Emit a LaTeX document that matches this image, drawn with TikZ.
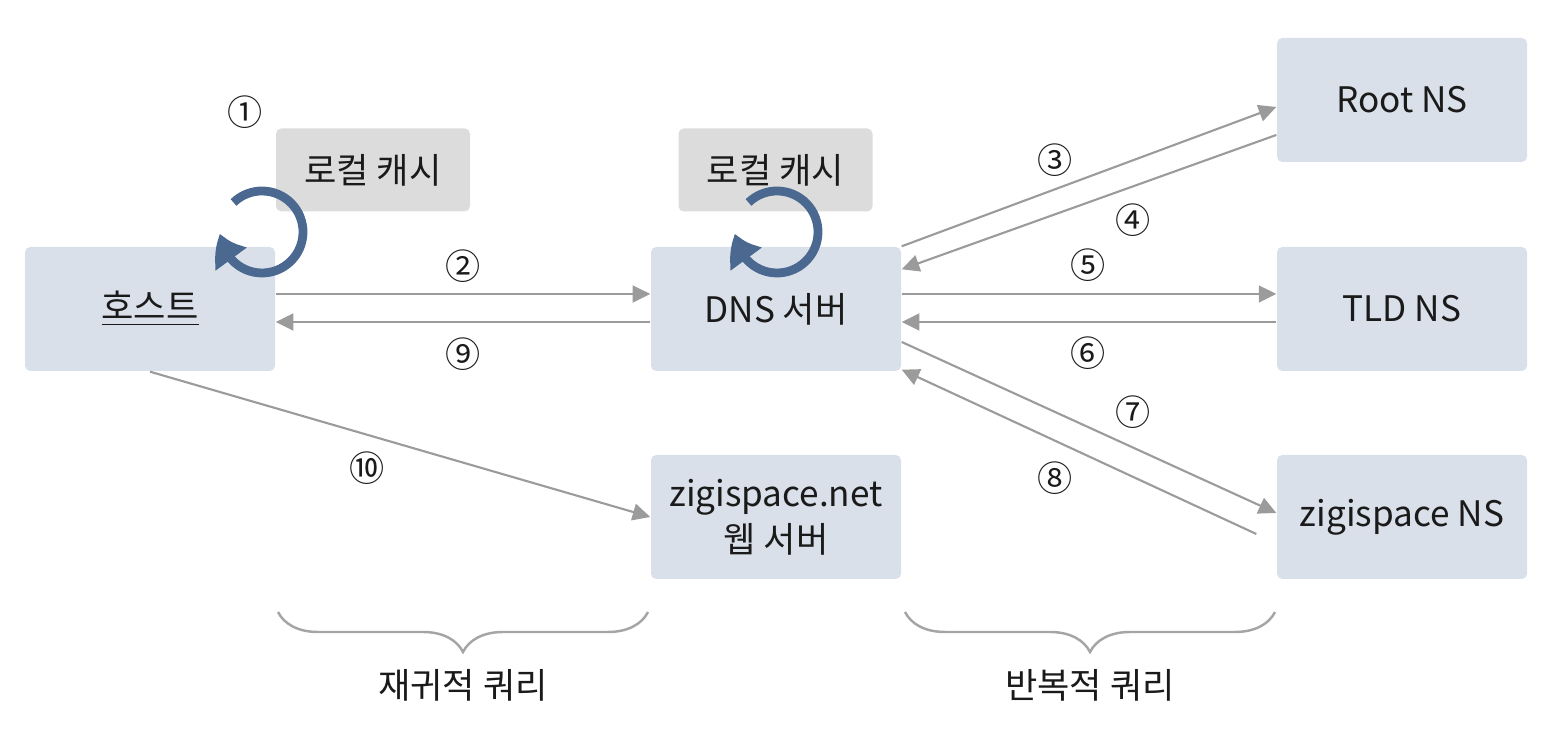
\documentclass[tikz,border=0pt]{standalone}
\usepackage{fontspec}
\setmainfont{Noto Sans CJK KR}
\usetikzlibrary{arrows.meta,bending,decorations.pathreplacing}

\definecolor{boxblue}{HTML}{DAE0EA}
\definecolor{cachegray}{HTML}{DCDCDC}
\definecolor{linegray}{HTML}{9B9B9B}
\definecolor{cycleblue}{HTML}{4A6890}
\definecolor{textdark}{HTML}{1A1A1A}

\begin{document}
\begin{tikzpicture}[font=\fontsize{10}{13}\selectfont, text=textdark,
                box/.style={rectangle, fill=boxblue, rounded corners=1.5pt, inner sep=0pt,
                            minimum width=2.5cm, minimum height=1.24cm, align=center},
                cache/.style={rectangle, fill=cachegray, rounded corners=1.5pt, inner sep=0pt,
                              minimum width=1.94cm, minimum height=0.83cm},
                num/.style={inner sep=0pt},
                conn/.style={draw, color=linegray, line width=0.6pt, -{Triangle[length=5pt,width=4.8pt]}},
                cyclearrow/.style={draw, color=cycleblue, line width=2.5pt, -{Triangle[length=8pt,width=10.5pt,bend]}},
                brace/.style={draw=linegray!90, line width=0.7pt,
                              decorate, decoration={brace, mirror, amplitude=0.4cm}}]

            \useasboundingbox (0,0) rectangle (15.54,7.46);

            % boxes
            \node[box] (host) at (1.50,4.37) {\underline{호스트}};
            \node[cache] (hcache) at (3.73,5.76) {로컬 캐시};
            \node[box] (dns) at (7.76,4.37) {DNS 서버};
            \node[cache] (dcache) at (7.755,5.76) {로컬 캐시};
            \node[box] (web) at (7.76,2.29) {zigispace.net\\웹 서버};
            \node[box] (root) at (14.02,6.46) {Root NS};
            \node[box] (tld) at (14.02,4.37) {TLD NS};
            \node[box] (zns) at (14.02,2.29) {zigispace NS};

            % cache lookups
            \draw[cyclearrow] (2.62,5.14) ++(134:0.41) arc[start angle=134, end angle=-178, radius=0.41];
            \draw[cyclearrow] (7.77,5.14) ++(134:0.41) arc[start angle=134, end angle=-178, radius=0.41];

            \path[every edge/.style=conn]
            ([yshift=0.15cm]host.east) edge ([yshift=0.15cm]dns.west)
            ([yshift=-0.13cm]dns.west) edge ([yshift=-0.13cm]host.east)
            (dns.north east) edge ([yshift=-0.07cm]root.west)
            ([yshift=-0.35cm]root.west) edge ([yshift=-0.23cm]dns.north east)
            ([yshift=0.15cm]dns.east) edge ([yshift=0.15cm]tld.west)
            ([yshift=-0.13cm]tld.west) edge ([yshift=-0.13cm]dns.east)
            ([yshift=-0.33cm]dns.east) edge ([yshift=0.04cm]zns.west)
            ([xshift=-0.2cm,yshift=-0.17cm]zns.west) edge ([yshift=0.02cm]dns.south east)
            (host.south) edge (web.west);

            % step numbers
            \node[num] (n1) at (2.45,6.34) {①};
            \node[num] (n2) at (4.63,4.80) {②};
            \node[num] (n3) at (10.55,5.86) {③};
            \node[num] (n4) at (11.33,5.26) {④};
            \node[num] (n5) at (10.88,4.81) {⑤};
            \node[num] (n6) at (10.88,3.93) {⑥};
            \node[num] (n7) at (11.33,3.34) {⑦};
            \node[num] (n8) at (10.55,2.68) {⑧};
            \node[num] (n9) at (4.63,3.92) {⑨};
            \node[num] (n10) at (3.67,2.78) {⑩};

            % query kinds
            \draw[brace] (2.78,1.34) -- (6.48,1.34);
            \draw[brace] (9.05,1.34) -- (12.75,1.34);
            \node (recursive) at (4.63,0.61) {재귀적 쿼리};
            \node (iterative) at (10.90,0.61) {반복적 쿼리};

        \end{tikzpicture}
\end{document}
